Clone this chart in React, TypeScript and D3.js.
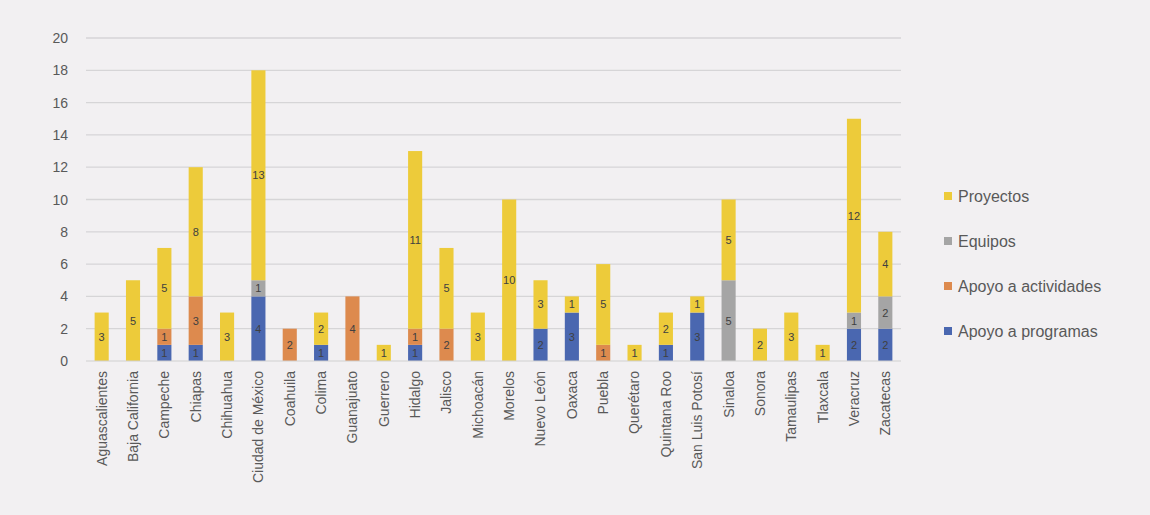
import React from "react";
import * as d3 from "d3";

const categories = [
  "Aguascalientes", "Baja California", "Campeche", "Chiapas", "Chihuahua",
  "Ciudad de México", "Coahuila", "Colima", "Guanajuato", "Guerrero",
  "Hidalgo", "Jalisco", "Michoacán", "Morelos", "Nuevo León", "Oaxaca",
  "Puebla", "Querétaro", "Quintana Roo", "San Luis Potosí", "Sinaloa",
  "Sonora", "Tamaulipas", "Tlaxcala", "Veracruz", "Zacatecas",
];

const apoyoProgramas = [0, 0, 1, 1, 0, 4, 0, 1, 0, 0, 1, 0, 0, 0, 2, 3, 0, 0, 1, 3, 0, 0, 0, 0, 2, 2];
const apoyoActividades = [0, 0, 1, 3, 0, 0, 2, 0, 4, 0, 1, 2, 0, 0, 0, 0, 1, 0, 0, 0, 0, 0, 0, 0, 0, 0];
const equipos = [0, 0, 0, 0, 0, 1, 0, 0, 0, 0, 0, 0, 0, 0, 0, 0, 0, 0, 0, 0, 5, 0, 0, 0, 1, 2];
const proyectos = [3, 5, 5, 8, 3, 13, 0, 2, 0, 1, 11, 5, 3, 10, 3, 1, 5, 1, 2, 1, 5, 2, 3, 1, 12, 4];

const yTicks = [0, 2, 4, 6, 8, 10, 12, 14, 16, 18, 20];

const seriesKeys = ["programas", "actividades", "equipos", "proyectos"];
const seriesNames: Record<string, string> = {
  programas: "Apoyo a programas",
  actividades: "Apoyo a actividades",
  equipos: "Equipos",
  proyectos: "Proyectos",
};
const colors: Record<string, string> = {
  programas: "#4a67b0",
  actividades: "#dd8a4e",
  equipos: "#a5a5a5",
  proyectos: "#edcb3a",
};
const legendOrder = ["proyectos", "equipos", "actividades", "programas"];

export default function App() {
  const W = 1150;
  const H = 515;
  const left = 86;
  const right = 901;
  const top = 38;
  const bottom = 361;

  const rows = categories.map((c, i) => ({
    cat: c,
    programas: apoyoProgramas[i],
    actividades: apoyoActividades[i],
    equipos: equipos[i],
    proyectos: proyectos[i],
  }));

  const x = d3
    .scaleBand<string>()
    .domain(categories)
    .range([left, right])
    .paddingInner(0.55)
    .paddingOuter(0.275);
  const y = d3.scaleLinear().domain([0, 20]).range([bottom, top]);

  const stacked = d3.stack<any>().keys(seriesKeys)(rows);

  return (
    <div style={{ position: "absolute", left: 0, top: 0 }}>
      <svg width={W} height={H} style={{ display: "block", fontFamily: "'Liberation Sans', Arial, sans-serif" }}>
        <rect x={0} y={0} width={W} height={H} fill="#f2f0f2" />
        {yTicks.map((t) => (
          <g key={t}>
            {t > 0 && (
              <line x1={left} x2={right} y1={y(t)} y2={y(t)} stroke="#d6d5d7" strokeWidth={1.3} />
            )}
            <text x={68} y={y(t)} textAnchor="end" dominantBaseline="central" fontSize={14} fill="#595959">
              {t}
            </text>
          </g>
        ))}
        {stacked.map((s) => (
          <g key={s.key} fill={colors[s.key]}>
            {s.map((d, i) =>
              d[1] - d[0] > 0 ? (
                <rect
                  key={i}
                  x={x(categories[i])}
                  y={y(d[1])}
                  width={x.bandwidth()}
                  height={y(d[0]) - y(d[1])}
                />
              ) : null
            )}
          </g>
        ))}
        <line x1={left} x2={right} y1={bottom} y2={bottom} stroke="#d0d0d0" strokeWidth={1} />
        {stacked.map((s) => (
          <g key={"l" + s.key}>
            {s.map((d, i) =>
              d[1] - d[0] > 0 ? (
                <text
                  key={i}
                  x={(x(categories[i]) as number) + x.bandwidth() / 2}
                  y={(y(d[0]) + y(d[1])) / 2}
                  textAnchor="middle"
                  dominantBaseline="central"
                  fontSize={11}
                  fill="#404040"
                >
                  {d[1] - d[0]}
                </text>
              ) : null
            )}
          </g>
        ))}
        {categories.map((c) => {
          const cx = (x(c) as number) + x.bandwidth() / 2;
          return (
            <text
              key={c}
              transform={`translate(${cx},${bottom + 10}) rotate(-90)`}
              textAnchor="end"
              dy="0.35em"
              fontSize={14}
              fill="#595959"
            >
              {c}
            </text>
          );
        })}
        {legendOrder.map((k, i) => {
          const ly = 196 + i * 45;
          return (
            <g key={k}>
              <rect x={944} y={ly - 4} width={8} height={8} fill={colors[k]} />
              <text x={958} y={ly} dominantBaseline="central" fontSize={16} fill="#595959">
                {seriesNames[k]}
              </text>
            </g>
          );
        })}
      </svg>
    </div>
  );
}
